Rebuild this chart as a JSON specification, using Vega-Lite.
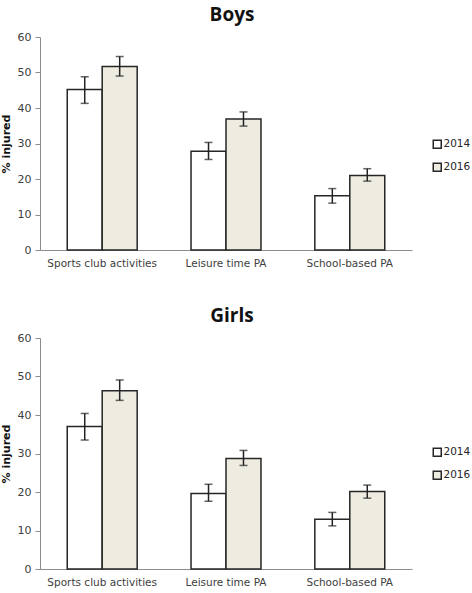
{
  "$schema": "https://vega.github.io/schema/vega-lite/v6.json",
  "padding": {"left": 0, "top": 6, "right": 0, "bottom": 0},
  "autosize": {"type": "pad"},
  "background": "white",
  "config": {
    "view": {"stroke": null},
    "font": "DejaVu Sans",
    "axis": {"labelColor": "#404040", "domainColor": "#8c8c8c", "tickColor": "#8c8c8c", "grid": false, "labelFontSize": 11}
  },
  "spacing": 38,
  "datasets": {
    "d": [
      {"sex": "Boys", "activity": "Sports club activities", "year": "2014", "value": 45.2, "lo": 41.3, "hi": 48.8},
      {"sex": "Boys", "activity": "Sports club activities", "year": "2016", "value": 51.7, "lo": 49.0, "hi": 54.5},
      {"sex": "Boys", "activity": "Leisure time PA", "year": "2014", "value": 27.8, "lo": 25.5, "hi": 30.3},
      {"sex": "Boys", "activity": "Leisure time PA", "year": "2016", "value": 36.9, "lo": 34.9, "hi": 38.9},
      {"sex": "Boys", "activity": "School-based PA", "year": "2014", "value": 15.3, "lo": 13.2, "hi": 17.3},
      {"sex": "Boys", "activity": "School-based PA", "year": "2016", "value": 21.0, "lo": 19.4, "hi": 22.9},
      {"sex": "Girls", "activity": "Sports club activities", "year": "2014", "value": 37.0, "lo": 33.5, "hi": 40.4},
      {"sex": "Girls", "activity": "Sports club activities", "year": "2016", "value": 46.3, "lo": 43.8, "hi": 49.1},
      {"sex": "Girls", "activity": "Leisure time PA", "year": "2014", "value": 19.6, "lo": 17.6, "hi": 22.0},
      {"sex": "Girls", "activity": "Leisure time PA", "year": "2016", "value": 28.7, "lo": 26.9, "hi": 30.8},
      {"sex": "Girls", "activity": "School-based PA", "year": "2014", "value": 12.9, "lo": 11.2, "hi": 14.7},
      {"sex": "Girls", "activity": "School-based PA", "year": "2016", "value": 20.1, "lo": 18.4, "hi": 21.8}
    ]
  },
  "resolve": {"legend": {"fill": "independent"}, "scale": {"fill": "independent"}},
  "vconcat": [
    {
      "title": {"text": "Boys", "font": "Open Sans", "fontSize": 19, "fontWeight": "bold", "color": "#111", "anchor": "middle", "dx": 6, "offset": 6},
      "width": 372,
      "height": 213,
      "data": {"name": "d"},
      "transform": [{"filter": "datum.sex === 'Boys'"}],
      "encoding": {
        "x": {"field": "activity", "type": "nominal", "sort": ["Sports club activities", "Leisure time PA", "School-based PA"], "scale": {"paddingInner": 0.435, "paddingOuter": 0.22}, "axis": {"title": null, "labelAngle": 0, "ticks": false, "labelPadding": 8, "labelFontSize": 10.5}},
        "xOffset": {"field": "year", "type": "nominal"}
      },
      "layer": [
        {
          "mark": {"type": "bar", "stroke": "#262626", "strokeWidth": 1.5},
          "encoding": {
            "y": {"field": "value", "type": "quantitative", "scale": {"domain": [0, 60]}, "axis": {"title": "% injured", "titleFontSize": 11, "titleFontWeight": "bold", "titleColor": "#111", "tickCount": 6, "labelPadding": 4, "titlePadding": 6}},
            "fill": {"field": "year", "type": "nominal", "scale": {"range": ["#ffffff", "#eeece1"]}, "legend": {"title": null, "orient": "none", "legendX": 392, "legendY": 102, "symbolType": "square", "symbolSize": 64, "symbolStrokeColor": "#262626", "symbolStrokeWidth": 1.5, "labelFontSize": 10.5, "labelColor": "#262626", "rowPadding": 8, "labelOffset": 1}}
          }
        },
        {
          "mark": {"type": "rule", "color": "#222", "strokeWidth": 1.5},
          "encoding": {"y": {"field": "lo", "type": "quantitative"}, "y2": {"field": "hi"}}
        },
        {
          "mark": {"type": "tick", "color": "#222", "thickness": 1.5, "size": 8},
          "encoding": {"y": {"field": "lo", "type": "quantitative"}}
        },
        {
          "mark": {"type": "tick", "color": "#222", "thickness": 1.5, "size": 8},
          "encoding": {"y": {"field": "hi", "type": "quantitative"}}
        }
      ]
    },
    {
      "title": {"text": "Girls", "font": "Open Sans", "fontSize": 19, "fontWeight": "bold", "color": "#111", "anchor": "middle", "dx": 6, "offset": 6},
      "width": 372,
      "height": 231,
      "data": {"name": "d"},
      "transform": [{"filter": "datum.sex === 'Girls'"}],
      "encoding": {
        "x": {"field": "activity", "type": "nominal", "sort": ["Sports club activities", "Leisure time PA", "School-based PA"], "scale": {"paddingInner": 0.435, "paddingOuter": 0.22}, "axis": {"title": null, "labelAngle": 0, "ticks": false, "labelPadding": 8, "labelFontSize": 10.5}},
        "xOffset": {"field": "year", "type": "nominal"}
      },
      "layer": [
        {
          "mark": {"type": "bar", "stroke": "#262626", "strokeWidth": 1.5},
          "encoding": {
            "y": {"field": "value", "type": "quantitative", "scale": {"domain": [0, 60]}, "axis": {"title": "% injured", "titleFontSize": 11, "titleFontWeight": "bold", "titleColor": "#111", "tickCount": 6, "labelPadding": 4, "titlePadding": 6}},
            "fill": {"field": "year", "type": "nominal", "scale": {"range": ["#ffffff", "#eeece1"]}, "legend": {"title": null, "orient": "none", "legendX": 392, "legendY": 109, "symbolType": "square", "symbolSize": 64, "symbolStrokeColor": "#262626", "symbolStrokeWidth": 1.5, "labelFontSize": 10.5, "labelColor": "#262626", "rowPadding": 8, "labelOffset": 1}}
          }
        },
        {
          "mark": {"type": "rule", "color": "#222", "strokeWidth": 1.5},
          "encoding": {"y": {"field": "lo", "type": "quantitative"}, "y2": {"field": "hi"}}
        },
        {
          "mark": {"type": "tick", "color": "#222", "thickness": 1.5, "size": 8},
          "encoding": {"y": {"field": "lo", "type": "quantitative"}}
        },
        {
          "mark": {"type": "tick", "color": "#222", "thickness": 1.5, "size": 8},
          "encoding": {"y": {"field": "hi", "type": "quantitative"}}
        }
      ]
    }
  ]
}
